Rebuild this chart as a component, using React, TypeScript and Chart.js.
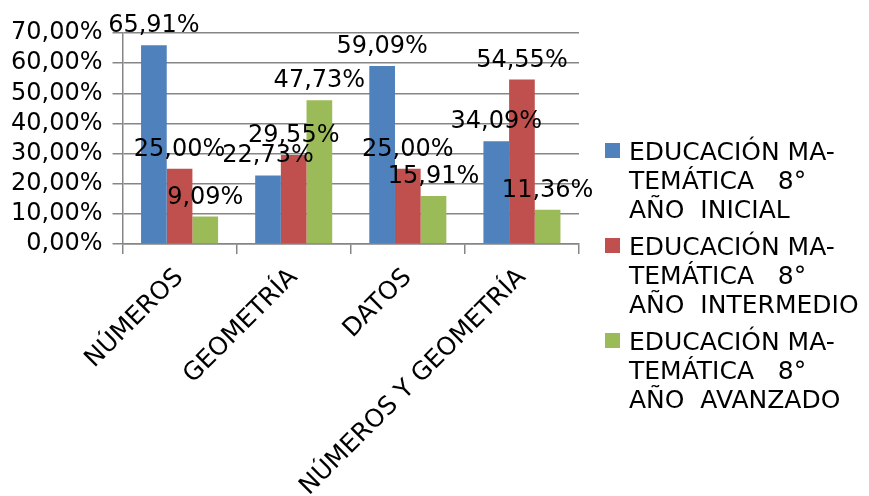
import React, { useEffect, useRef } from "react";
import { Chart, registerables } from "chart.js";

Chart.register(...registerables);

const categories = ["NÚMEROS", "GEOMETRÍA", "DATOS", "NÚMEROS Y GEOMETRÍA"];
const seriesNames = [
  "EDUCACIÓN MATEMÁTICA 8° AÑO INICIAL",
  "EDUCACIÓN MATEMÁTICA 8° AÑO INTERMEDIO",
  "EDUCACIÓN MATEMÁTICA 8° AÑO AVANZADO",
];
const legendLines = [
  ["EDUCACIÓN MA-", "TEMÁTICA   8°", "AÑO  INICIAL"],
  ["EDUCACIÓN MA-", "TEMÁTICA   8°", "AÑO  INTERMEDIO"],
  ["EDUCACIÓN MA-", "TEMÁTICA   8°", "AÑO  AVANZADO"],
];
const inicial = [65.91, 22.73, 59.09, 34.09];
const intermedio = [25.0, 29.55, 25.0, 54.55];
const avanzado = [9.09, 47.73, 15.91, 11.36];
const colors = ["#4F81BD", "#C0504D", "#9BBB59"];
const yTicks = [0, 10, 20, 30, 40, 50, 60, 70];

const FONT = "'DejaVu Sans', sans-serif";
const fmt = (v: number) => v.toFixed(2).replace(".", ",") + "%";

const dataLabelPlugin = {
  id: "dataLabels",
  afterDatasetsDraw(chart: any) {
    const ctx = chart.ctx;
    ctx.save();
    ctx.font = `24px ${FONT}`;
    ctx.fillStyle = "#000";
    ctx.textAlign = "center";
    ctx.textBaseline = "alphabetic";
    chart.data.datasets.forEach((ds: any, i: number) => {
      const meta = chart.getDatasetMeta(i);
      meta.data.forEach((bar: any, j: number) => {
        ctx.fillText(fmt(ds.data[j]), bar.x, bar.y - 13);
      });
    });
    ctx.restore();
  },
};

const legendPlugin = {
  id: "customLegend",
  afterDraw(chart: any) {
    const ctx = chart.ctx;
    ctx.save();
    ctx.font = `25px ${FONT}`;
    ctx.fillStyle = "#000";
    ctx.textAlign = "left";
    ctx.textBaseline = "alphabetic";
    const x0 = 605;
    const textX = 629;
    const firstBase = 160;
    const lineH = 29;
    const blockH = 95;
    legendLines.forEach((lines, i) => {
      const base = firstBase + i * blockH;
      ctx.fillStyle = colors[i];
      ctx.fillRect(x0, base - 17, 15, 15);
      ctx.fillStyle = "#000";
      lines.forEach((t, k) => {
        ctx.fillText(t, textX, base + k * lineH);
      });
    });
    ctx.restore();
  },
};

export default function App() {
  const ref = useRef<HTMLCanvasElement | null>(null);
  useEffect(() => {
    if (!ref.current) return;
    const seriesData = [inicial, intermedio, avanzado];
    const chart = new Chart(ref.current, {
      type: "bar",
      data: {
        labels: categories,
        datasets: seriesData.map((d, i) => ({
          label: seriesNames[i],
          data: d,
          backgroundColor: colors[i],
          borderWidth: 0,
          categoryPercentage: 0.675,
          barPercentage: 1,
        })),
      },
      options: {
        responsive: false,
        animation: false,
        layout: { padding: { left: 1, right: 290, top: 33, bottom: 0 } },
        plugins: {
          legend: { display: false },
          tooltip: { enabled: false },
        },
        scales: {
          x: {
            afterFit: (scale: any) => {
              scale.height = 252;
            },
            grid: {
              offset: true,
              drawOnChartArea: false,
              drawTicks: true,
              tickLength: 10,
              color: "#868686",
              lineWidth: 1.5,
            },
            border: { display: true, color: "#868686", width: 1.5 },
            ticks: {
              autoSkip: false,
              minRotation: 45,
              maxRotation: 45,
              color: "#000",
              font: { family: FONT, size: 25 },
              padding: 9,
            },
          },
          y: {
            min: 0,
            max: 70,
            afterBuildTicks: (axis: any) => {
              axis.ticks = yTicks.map((v) => ({ value: v }));
            },
            grid: {
              color: "#868686",
              lineWidth: 1.5,
              tickLength: 10,
            },
            border: { display: true, color: "#868686", width: 1.5 },
            ticks: {
              autoSkip: false,
              color: "#000",
              font: { family: FONT, size: 24 },
              padding: 10,
              callback: (v: any) => fmt(Number(v)),
            },
          },
        },
      },
      plugins: [dataLabelPlugin, legendPlugin],
    });
    return () => chart.destroy();
  }, []);
  return (
    <div style={{ position: "absolute", left: 0, top: 0, width: 869, height: 496 }}>
      <canvas ref={ref} width={869} height={496} />
    </div>
  );
}
